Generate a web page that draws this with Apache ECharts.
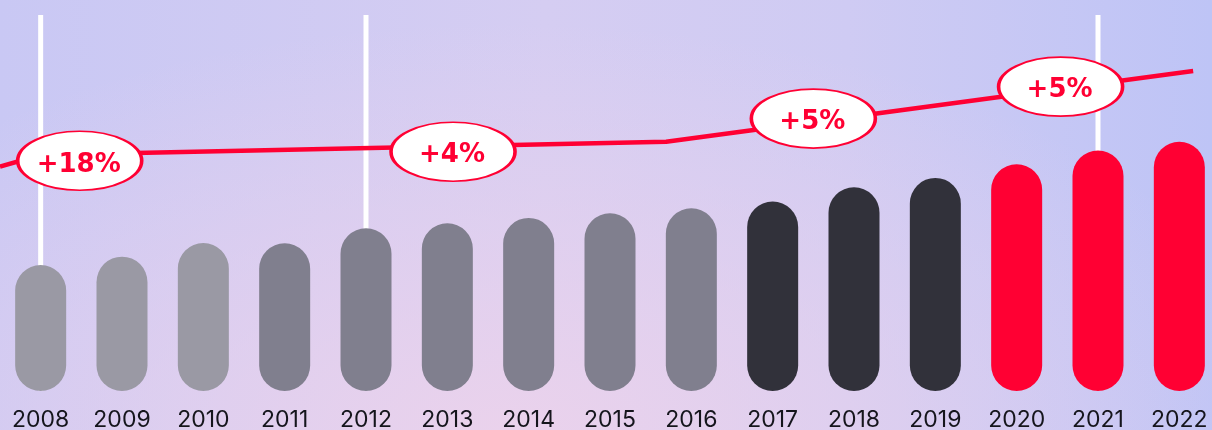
<!DOCTYPE html>
<html>
<head>
<meta charset="utf-8">
<script src="https://cdn.jsdelivr.net/npm/echarts@6/dist/echarts.min.js"></script>
<style>
  html, body { margin: 0; padding: 0; }
  #chart {
    width: 1212px; height: 430px;
    background:
      radial-gradient(ellipse 65% 95% at 42% 100%, rgba(234,210,236,1) 0%, rgba(234,210,236,0) 100%),
      linear-gradient(90deg, #c9c8f4 0%, #d5cdf2 45%, #cfcbf3 70%, #bec4f6 100%);
  }
</style>
</head>
<body>
<div id="chart"></div>
<script>
// ---- data ----
const years = ['2008','2009','2010','2011','2012','2013','2014','2015','2016','2017','2018','2019','2020','2021','2022'];
const barValues = [100.5, 107.2, 118.1, 117.9, 129.8, 133.8, 138.1, 141.8, 145.8, 151.1, 162.5, 170.0, 180.9, 191.8, 198.9];
const barTones = [0, 0, 0, 1, 1, 1, 1, 1, 1, 2, 2, 2, 3, 3, 3];
const tonePalette = ['#9a99a4', '#807f8e', '#31313a', '#ff0033'];

const trendX = [2007.5, 2008, 2015.69, 2022.17];
const trendY = [179.0, 188.3, 198.9, 255.3];

const badgeX = [2008.48, 2013.07, 2017.5, 2020.54];
const badgeY = [183.7, 190.9, 217.4, 242.8];
const badgeText = ['+18%', '+4%', '+5%', '+5%'];

const guideYears = [2008, 2012, 2021];
const axisMax = 300;

// ---- build ----
const RED = '#ff0033';
const chart = echarts.init(document.getElementById('chart'), null, { renderer: 'canvas' });

const guideData = [];
guideYears.forEach((y, i) => {
  if (i > 0) guideData.push('-');
  guideData.push([y, 0], [y, axisMax]);
});

const option = {
  backgroundColor: 'transparent',
  animation: false,
  grid: { left: 0, width: 1220, top: 15, bottom: 39, containLabel: false, outerBoundsMode: 'none' },
  xAxis: [
    {
      type: 'category', data: years,
      axisLine: { show: false }, axisTick: { show: false }, splitLine: { show: false },
      axisLabel: { color: '#15151c', fontFamily: 'Inter', fontSize: 23, fontWeight: 400, margin: 18 }
    },
    { type: 'value', min: 2007.5, max: 2022.5, show: false }
  ],
  yAxis: { type: 'value', min: 0, max: axisMax, show: false },
  series: [
    {
      type: 'line', xAxisIndex: 1, data: guideData, symbol: 'none', z: 1,
      connectNulls: false, silent: true,
      lineStyle: { color: '#ffffff', width: 5 }
    },
    {
      type: 'bar', xAxisIndex: 0, z: 2, barWidth: 51,
      data: barValues.map((v, i) => ({
        value: v,
        itemStyle: { color: tonePalette[barTones[i]], borderRadius: 26 }
      }))
    },
    {
      type: 'line', xAxisIndex: 1, z: 3, symbol: 'none',
      data: trendX.map((x, i) => [x, trendY[i]]),
      lineStyle: { color: RED, width: 4.5 }
    },
    {
      type: 'scatter', xAxisIndex: 1, z: 4, symbol: 'circle', symbolSize: [124, 59],
      data: badgeX.map((x, i) => ({ value: [x, badgeY[i]], name: badgeText[i] })),
      itemStyle: { color: '#ffffff', borderColor: RED, borderWidth: 2.5, opacity: 1 },
      label: {
        show: true, position: 'inside', formatter: p => p.name,
        color: RED, fontFamily: 'DejaVu Sans', fontWeight: 'bold', fontSize: 26,
        offset: [-1, 4]
      }
    }
  ]
};
chart.setOption(option);
</script>
</body>
</html>
